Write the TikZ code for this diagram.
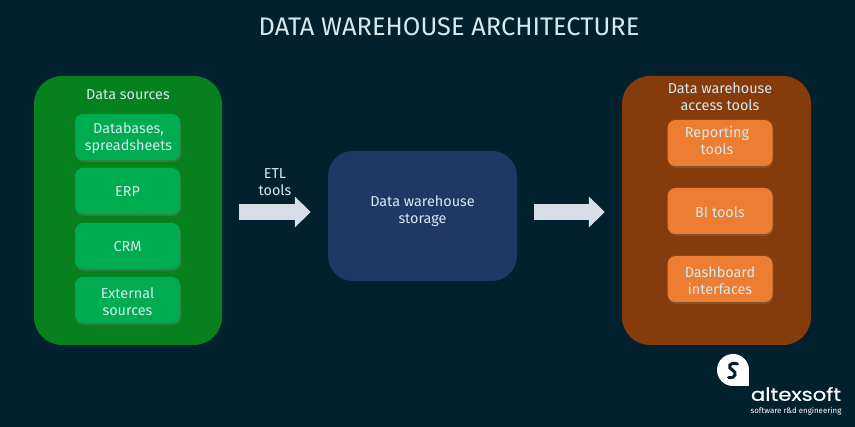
\documentclass[tikz,border=0pt]{standalone}
\usepackage{fontspec}
\setmainfont{Fira Sans}
\newfontfamily\brandfont[FakeBold=0.5]{Poppins}
\usetikzlibrary{arrows.meta,shadows}
\definecolor{bgnavy}{HTML}{03202F}
\definecolor{srcgreen}{HTML}{07801E}
\definecolor{itemgreen}{HTML}{00AC50}
\definecolor{toolbrown}{HTML}{853B0B}
\definecolor{itemorange}{HTML}{ED7D31}
\definecolor{storeblue}{HTML}{1F3864}
\definecolor{paletext}{HTML}{D6E9EE}
\definecolor{arrowgrey}{HTML}{D8DEE8}
\tikzset{
	panel/.style={rectangle, rounded corners=28pt, minimum height=269pt, inner sep=0pt},
	itembox/.style={rectangle, rounded corners=8pt, minimum width=105pt, minimum height=46pt, inner sep=0pt,
		drop shadow={shadow xshift=1pt, shadow yshift=-2pt, opacity=0.35}},
	caption/.style={align=center, text=paletext, font=\fontsize{14.4}{17}\selectfont, inner sep=0pt},
	flowarrow/.style={draw=arrowgrey, line width=16pt, shorten <=17pt, shorten >=17pt,
		-{Triangle[length=16pt, width=30pt, fill=arrowgrey]}},
}
\begin{document}
\begin{tikzpicture}[x=1pt, y=-1pt]
	\fill[bgnavy] (0,0) rectangle (855,427);
	\useasboundingbox (0,0) rectangle (855,427);
	\node[text=paletext, font=\fontsize{25.4}{28}\selectfont, inner sep=0pt] (title) at (449,27) {DATA WAREHOUSE ARCHITECTURE};

	\node[panel, minimum width=188pt, fill=srcgreen] (sources) at (128,210.5) {};
	\node[caption] (sourcestitle) at (128,95) {Data sources};
	\node[itembox, fill=itemgreen, label={[caption, yshift=-1pt, xshift=1pt]center:{Databases,\\spreadsheets}}] (databases) at (127.5,137) {};
	\node[itembox, fill=itemgreen, label={[caption, yshift=-1pt]center:ERP}] (erp) at (127.5,191) {};
	\node[itembox, fill=itemgreen, label={[caption, yshift=-1pt]center:CRM}] (crm) at (127.5,246) {};
	\node[itembox, fill=itemgreen, label={[caption, yshift=-2pt]center:{External\\sources}}] (external) at (127.5,300) {};

	\node[rectangle, rounded corners=25pt, minimum width=189pt, minimum height=130pt, inner sep=0pt,
		fill=storeblue] (storage) at (422.5,216) {};
	\node[caption] (storagetitle) at (422.5,211) {Data warehouse\\storage};

	\node[panel, minimum width=189pt, fill=toolbrown] (tools) at (716.5,210.5) {};
	\node[caption] (toolstitle) at (720,97) {Data warehouse\\access tools};
	\node[itembox, fill=itemorange, label={[caption, yshift=3pt, xshift=-3pt]center:{Reporting\\tools}}] (reporting) at (720,143) {};
	\node[itembox, fill=itemorange, label={[caption, yshift=-1pt]center:BI tools}] (bitools) at (720,211) {};
	\node[itembox, fill=itemorange, label={[caption, yshift=-2pt]center:{Dashboard\\interfaces}}] (dashboard) at (720,279) {};

	\coordinate (flowline) at (0,212);
	\draw[flowarrow] (sources.east |- flowline) -- (storage.west |- flowline);
	\draw[flowarrow] (storage.east |- flowline) -- (tools.west |- flowline);
	\node[caption] (etl) at (275,182) {ETL\\tools};

	% logo
	\fill[white] (733,370) circle[radius=16];
	\fill[white] (733,370) rectangle (749,386);
	\draw[bgnavy, line width=3pt, line cap=round] (737.5,364) .. controls (729,361) and (727,368) .. (732.5,370) .. controls (737,372) and (736,379) .. (728.5,377.5);
	\node[text=white, font=\brandfont\fontsize{18}{20}\selectfont, inner sep=0pt, xscale=1.18] (brand) at (796,394) {altexsoft};
	\node[text=white, font=\fontsize{7.9}{9}\selectfont, inner sep=0pt] (tagline) at (796,411) {software r\&d engineering};
\end{tikzpicture}
\end{document}
